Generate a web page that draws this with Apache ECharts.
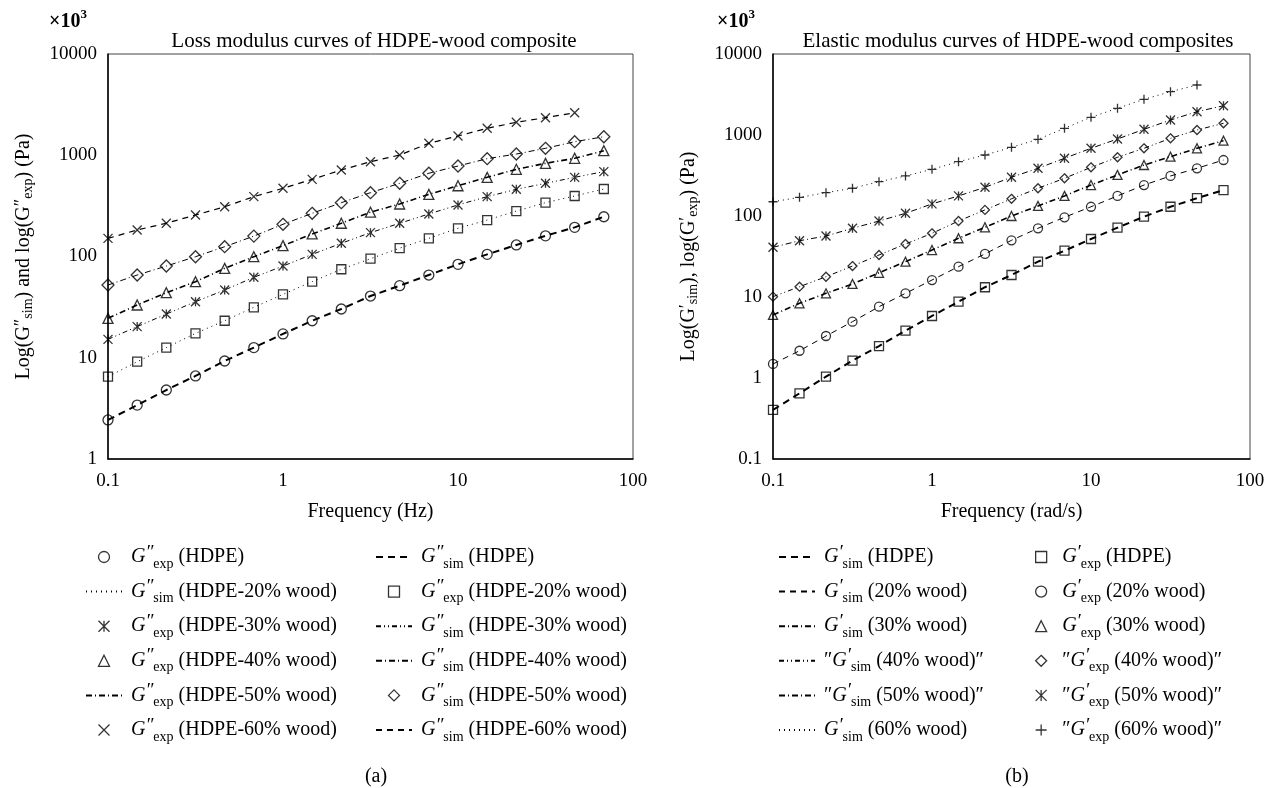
<!DOCTYPE html>
<html>
<head>
<meta charset="utf-8">
<script src="https://cdn.jsdelivr.net/npm/echarts@6/dist/echarts.min.js"></script>
<style>
html,body{margin:0;padding:0;background:#fff}
#main{width:1278px;height:788px}
</style>
</head>
<body>
<div id="main"></div>
<script>
// frequencies (6 points per decade)
var freqHz  = [0.1, 0.1468, 0.2154, 0.3162, 0.4642, 0.6813, 1, 1.468, 2.154, 3.162, 4.642, 6.813, 10, 14.68, 21.54, 31.62, 46.42, 68.13];
var freqRad = [0.1, 0.1468, 0.2154, 0.3162, 0.4642, 0.6813, 1, 1.468, 2.154, 3.162, 4.642, 6.813, 10, 14.68, 21.54, 31.62, 46.42, 68.13];

// (a) loss modulus, x10^3 Pa
var lossHDPE = [2.43, 3.41, 4.80, 6.61, 9.29, 12.6, 17.2, 23.2, 30.3, 40.7, 51.5, 65.6, 83.7, 105, 130, 160, 194, 247];
var loss20   = [6.50, 9.14, 12.6, 17.4, 23.2, 31.5, 42.3, 56.4, 74.8, 95.1, 121, 151, 190, 229, 281, 340, 396, 464];
var loss30   = [15.2, 20.3, 27.0, 35.8, 46.7, 62.3, 80.5, 105, 135, 172, 213, 263, 323, 390, 461, 528, 605, 689];
var loss40   = [24.5, 33.2, 43.9, 56.4, 76.4, 99.5, 128, 167, 213, 274, 330, 411, 500, 605, 726, 832, 933, 1109];
var loss50   = [52.3, 65.6, 80.5, 99.5, 125, 159, 208, 267, 340, 427, 528, 664, 783, 925, 1028, 1171, 1361, 1524];
var loss60   = [151, 183, 213, 257, 310, 390, 472, 578, 715, 863, 1005, 1312, 1549, 1845, 2115, 2350, 2630];

// (b) elastic modulus, x10^3 Pa
var elasHDPE = [0.403, 0.647, 1.04, 1.64, 2.48, 3.84, 5.83, 8.75, 13.2, 18.7, 27.3, 37.3, 52.0, 71.7, 98.0, 130, 166, 209];
var elas20   = [1.49, 2.17, 3.30, 4.96, 7.59, 11.1, 16.2, 23.7, 34.0, 50.1, 70.5, 96.4, 130, 177, 241, 312, 388, 491];
var elas30   = [6.0, 8.36, 11.1, 14.5, 19.9, 27.3, 38.0, 53.1, 72.5, 100, 133, 177, 241, 321, 426, 540, 685, 851];
var elas40   = [10.1, 13.4, 17.8, 24.1, 33.0, 45.1, 61.1, 86.7, 119, 163, 220, 292, 399, 531, 685, 910, 1153, 1394];
var elas50   = [41.1, 49.5, 56.6, 70.5, 86.7, 108, 141, 177, 226, 301, 388, 516, 685, 893, 1175, 1531, 1940, 2300];
var elas60   = [150, 170, 194, 220, 265, 312, 377, 468, 566, 705, 885, 1210, 1655, 2137, 2760, 3425, 4140];

var serif = 'Liberation Serif';
var X_SYM = 'path://M0,0L10,10M10,0L0,10';
var AST_SYM = 'path://M0,0L10,10M10,0L0,10M5,0L5,10';
var PLUS_SYM = 'path://M5,0L5,10M0,5L10,5';
var RECT_SYM = 'path://M0,0L10,0L10,10L0,10Z';
var TRI_SYM = 'path://M5,0L10,10L0,10Z';
var DIA_SYM = 'path://M5,0L10,5L5,10L0,5Z';

var rich = {
	g: {fontFamily: serif, fontStyle: 'italic', fontSize: 20, color: '#000', lineHeight: 22, verticalAlign: 'middle'},
	p: {fontFamily: serif, fontStyle: 'italic', fontSize: 19, color: '#000', lineHeight: 18, verticalAlign: 'top'},
	s: {fontFamily: serif, fontSize: 14, color: '#000', lineHeight: 14, verticalAlign: 'bottom'},
	t: {fontFamily: serif, fontSize: 20, color: '#000', lineHeight: 28, verticalAlign: 'middle'},
	gu: {fontFamily: serif, fontSize: 20, color: '#000', lineHeight: 22, verticalAlign: 'middle'},
	pu: {fontFamily: serif, fontSize: 18, color: '#000', lineHeight: 17, verticalAlign: 'top'},
	su: {fontFamily: serif, fontSize: 14, color: '#000', lineHeight: 14, verticalAlign: 'bottom'},
	x: {fontFamily: serif, fontSize: 20, color: '#000', lineHeight: 24, verticalAlign: 'bottom'},
	sup: {fontFamily: serif, fontSize: 13, color: '#000', lineHeight: 13, verticalAlign: 'top'}
};

function gl(prime, sub, rest, pre, post) {
	return (pre ? '{t|' + pre + '}' : '') + '{g|G}{p|' + prime + '}{s|' + sub + '}{t| ' + rest + (post || '') + '}';
}

var labels = {
	a_exp_HDPE: gl('″', 'exp', '(HDPE)'),
	a_sim_HDPE: gl('″', 'sim', '(HDPE)'),
	a_sim_20: gl('″', 'sim', '(HDPE-20% wood)'),
	a_exp_20: gl('″', 'exp', '(HDPE-20% wood)'),
	a_exp_30: gl('″', 'exp', '(HDPE-30% wood)'),
	a_sim_30: gl('″', 'sim', '(HDPE-30% wood)'),
	a_exp_40: gl('″', 'exp', '(HDPE-40% wood)'),
	a_sim_40: gl('″', 'sim', '(HDPE-40% wood)'),
	a_line_50: gl('″', 'exp', '(HDPE-50% wood)'),
	a_pts_50: gl('″', 'sim', '(HDPE-50% wood)'),
	a_exp_60: gl('″', 'exp', '(HDPE-60% wood)'),
	a_sim_60: gl('″', 'sim', '(HDPE-60% wood)'),
	b_sim_HDPE: gl('′', 'sim', '(HDPE)'),
	b_exp_HDPE: gl('′', 'exp', '(HDPE)'),
	b_sim_20: gl('′', 'sim', '(20% wood)'),
	b_exp_20: gl('′', 'exp', '(20% wood)'),
	b_sim_30: gl('′', 'sim', '(30% wood)'),
	b_exp_30: gl('′', 'exp', '(30% wood)'),
	b_sim_40: gl('′', 'sim', '(40% wood)', '″', '″'),
	b_exp_40: gl('′', 'exp', '(40% wood)', '″', '″'),
	b_sim_50: gl('′', 'sim', '(50% wood)', '″', '″'),
	b_exp_50: gl('′', 'exp', '(50% wood)', '″', '″'),
	b_sim_60: gl('′', 'sim', '(60% wood)'),
	b_exp_60: gl('′', 'exp', '(60% wood)', '″', '″')
};

function pairs(xs, ys) {
	var out = [];
	for (var i = 0; i < ys.length; i++) {
		out.push([xs[i], ys[i]]);
	}
	return out;
}

function simLine(name, idx, xs, ys, dash, w) {
	return {
		name: name, type: 'line', xAxisIndex: idx, yAxisIndex: idx,
		data: pairs(xs, ys), symbol: 'none', silent: true, z: 2,
		lineStyle: {color: '#000', width: w, type: dash},
		itemStyle: {color: '#000'}
	};
}

function expPts(name, idx, xs, ys, sym, size) {
	return {
		name: name, type: 'scatter', xAxisIndex: idx, yAxisIndex: idx,
		data: pairs(xs, ys), symbol: sym, symbolSize: size, z: 3,
		itemStyle: {color: 'rgba(0,0,0,0)', borderColor: '#000', borderWidth: 1.3}
	};
}

function xAx(idx, nm) {
	return {
		type: 'log', logBase: 10, min: 0.1, max: 100, gridIndex: idx,
		name: nm, nameLocation: 'middle', nameGap: 43,
		nameTextStyle: {fontFamily: serif, fontSize: 20, color: '#000'},
		axisLine: {lineStyle: {color: '#000', width: 1.5}},
		axisTick: {show: false}, minorTick: {show: false},
		splitLine: {show: false},
		axisLabel: {fontFamily: serif, fontSize: 19, color: '#000', margin: 13,
			formatter: function (v) { return String(+v.toPrecision(3)); }}
	};
}

function yAx(idx, mn, nm, gap) {
	return {
		type: 'log', logBase: 10, min: mn, max: 10000, gridIndex: idx,
		name: nm, nameLocation: 'middle', nameGap: gap, nameRotate: 90,
		nameTextStyle: {rich: rich},
		axisLine: {lineStyle: {color: '#000', width: 1.5}},
		axisTick: {show: false}, minorTick: {show: false},
		splitLine: {show: false},
		axisLabel: {fontFamily: serif, fontSize: 19, color: '#000', margin: 11,
			formatter: function (v) { return String(+v.toPrecision(3)); }}
	};
}

// lines in the legend get no symbol drawn over them
var lineKeys = {};
function leg(left, names, iw) {
	var items = [];
	for (var k in names) {
		if (lineKeys[names[k]]) {
			items[k] = {name: names[k], itemStyle: {color: 'rgba(0,0,0,0)', borderWidth: 0}};
		} else {
			items[k] = {name: names[k]};
		}
	}
	return {
		orient: 'vertical', left: left, top: 538, itemGap: 6.6,
		itemWidth: iw, itemHeight: 11, data: items, selectedMode: false,
		formatter: function (n) { return labels[n]; },
		textStyle: {rich: rich, padding: [0, 0, 0, 4]},
		itemStyle: {borderColor: '#000', borderWidth: 1.3, color: 'rgba(0,0,0,0)'}
	};
}

var yNameA = '{gu|Log(G}{pu|″}{su|sim}{gu|) and log(G}{pu|″}{su|exp}{gu|) (Pa)}';
var yNameB = '{gu|Log(G}{pu|′}{su|sim}{gu|), log(G}{pu|′}{su|exp}{gu|) (Pa)}';

var seriesList = [
	simLine('a_sim_HDPE', 0, freqHz, lossHDPE, [7, 5], 2),
	simLine('a_sim_20', 0, freqHz, loss20, [1, 4], 1),
	simLine('a_sim_30', 0, freqHz, loss30, [5, 3, 1, 3, 1, 3], 1),
	simLine('a_sim_40', 0, freqHz, loss40, [6, 3, 1, 3], 1.6),
	simLine('a_line_50', 0, freqHz, loss50, [6, 3, 1, 3], 1),
	simLine('a_sim_60', 0, freqHz, loss60, [6, 5], 1.2),
	expPts('a_exp_HDPE', 0, freqHz, lossHDPE, 'circle', 10),
	expPts('a_exp_20', 0, freqHz, loss20, RECT_SYM, 9),
	expPts('a_exp_30', 0, freqHz, loss30, AST_SYM, 9),
	expPts('a_exp_40', 0, freqHz, loss40, TRI_SYM, 10),
	expPts('a_pts_50', 0, freqHz, loss50, DIA_SYM, 12),
	expPts('a_exp_60', 0, freqHz, loss60, X_SYM, 9),

	simLine('b_sim_HDPE', 1, freqRad, elasHDPE, [7, 5], 2),
	simLine('b_sim_20', 1, freqRad, elas20, [6, 5], 1),
	simLine('b_sim_30', 1, freqRad, elas30, [6, 3, 1, 3], 1.6),
	simLine('b_sim_40', 1, freqRad, elas40, [5, 3, 1, 3, 1, 3], 1),
	simLine('b_sim_50', 1, freqRad, elas50, [6, 3, 1, 3], 1),
	simLine('b_sim_60', 1, freqRad, elas60, [1, 4], 1),
	expPts('b_exp_HDPE', 1, freqRad, elasHDPE, RECT_SYM, 9),
	expPts('b_exp_20', 1, freqRad, elas20, 'circle', 9),
	expPts('b_exp_30', 1, freqRad, elas30, TRI_SYM, 9),
	expPts('b_exp_40', 1, freqRad, elas40, DIA_SYM, 9),
	expPts('b_exp_50', 1, freqRad, elas50, AST_SYM, 9),
	expPts('b_exp_60', 1, freqRad, elas60, PLUS_SYM, 9)
];
for (var i in seriesList) {
	if (seriesList[i].type == 'line') lineKeys[seriesList[i].name] = true;
}

var titleStyle = {fontFamily: serif, fontSize: 21, fontWeight: 'normal', color: '#000'};
var capStyle = {fontFamily: serif, fontSize: 20, fontWeight: 'normal', color: '#000'};

var myChart = echarts.init(document.getElementById('main'));
var option = {
	animation: false,
	backgroundColor: '#fff',
	title: [
		{text: 'Loss modulus curves of HDPE-wood composite', left: 369, top: 26, textAlign: 'center', textStyle: titleStyle},
		{text: 'Elastic modulus curves of HDPE-wood composites', left: 1013, top: 26, textAlign: 'center', textStyle: titleStyle},
		{text: '{x|×10}{sup|3}', left: 44, top: 3, textStyle: {rich: rich}},
		{text: '{x|×10}{sup|3}', left: 712, top: 3, textStyle: {rich: rich}},
		{text: '(a)', left: 371, top: 762, textAlign: 'center', textStyle: capStyle},
		{text: '(b)', left: 1012, top: 762, textAlign: 'center', textStyle: capStyle}
	],
	grid: [
		{left: 108, right: 645, top: 54, bottom: 329, show: true, borderColor: '#444', borderWidth: 1, backgroundColor: 'transparent'},
		{left: 773, right: 28, top: 54, bottom: 329, show: true, borderColor: '#444', borderWidth: 1, backgroundColor: 'transparent'}
	],
	xAxis: [xAx(0, 'Frequency (Hz)'), xAx(1, 'Frequency (rad/s)')],
	yAxis: [yAx(0, 1, yNameA, 73), yAx(1, 0.1, yNameB, 73)],
	legend: [
		leg(80, ['a_exp_HDPE', 'a_sim_20', 'a_exp_30', 'a_exp_40', 'a_line_50', 'a_exp_60'], 36),
		leg(370, ['a_sim_HDPE', 'a_exp_20', 'a_sim_30', 'a_sim_40', 'a_pts_50', 'a_sim_60'], 36),
		leg(773, ['b_sim_HDPE', 'b_sim_20', 'b_sim_30', 'b_sim_40', 'b_sim_50', 'b_sim_60'], 36),
		leg(1030, ['b_exp_HDPE', 'b_exp_20', 'b_exp_30', 'b_exp_40', 'b_exp_50', 'b_exp_60'], 24)
	],
	series: seriesList
};
myChart.setOption(option);
</script>
</body>
</html>
